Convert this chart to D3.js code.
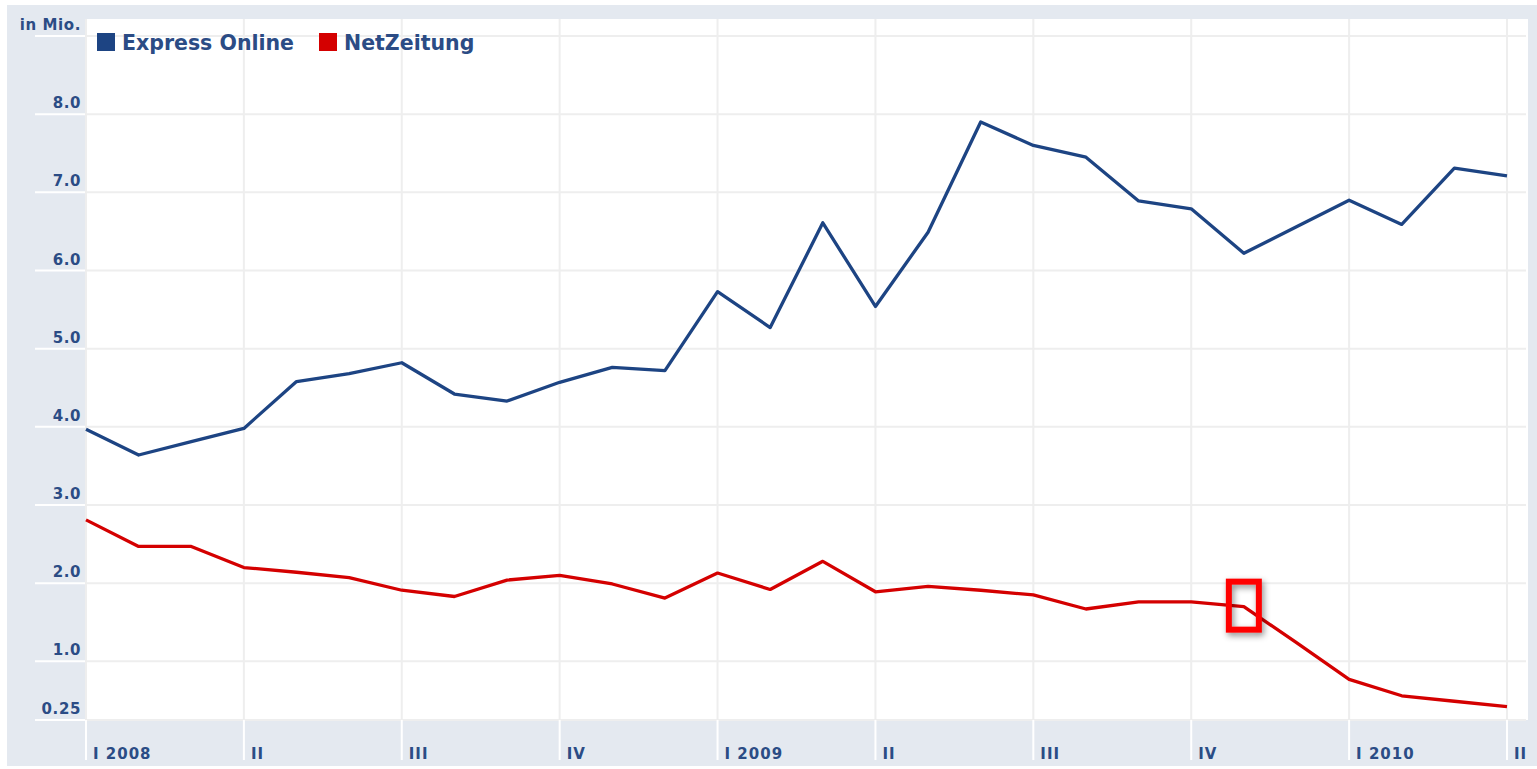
<!DOCTYPE html>
<html>
<head>
<meta charset="utf-8">
<script src="https://cdn.jsdelivr.net/npm/d3@7"></script>
<style>
  body { margin: 0; background: #fff; }
  text { font-family: "DejaVu Sans", Verdana, sans-serif; font-weight: bold; }
</style>
</head>
<body>
<div id="chart"></div>
<script>
// months from Jan 2008 to Apr 2010
var months = ["2008-01","2008-02","2008-03","2008-04","2008-05","2008-06","2008-07","2008-08","2008-09","2008-10","2008-11","2008-12",
              "2009-01","2009-02","2009-03","2009-04","2009-05","2009-06","2009-07","2009-08","2009-09","2009-10","2009-11","2009-12",
              "2010-01","2010-02","2010-03","2010-04"];
var expressOnline = [3.97, 3.64, 3.81, 3.98, 4.58, 4.68, 4.82, 4.42, 4.33, 4.57, 4.76, 4.72,
                     5.73, 5.27, 6.61, 5.54, 6.49, 7.90, 7.60, 7.45, 6.89, 6.79, 6.22, 6.56,
                     6.90, 6.59, 7.31, 7.21];
var netZeitung = [2.81, 2.47, 2.47, 2.20, 2.14, 2.07, 1.91, 1.83, 2.04, 2.10, 1.99, 1.81,
                  2.13, 1.92, 2.28, 1.89, 1.96, 1.91, 1.85, 1.67, 1.76, 1.76, 1.70, 1.24,
                  0.77, 0.56, 0.49, 0.42];
var quarterMonths = ["2008-01","2008-04","2008-07","2008-10","2009-01","2009-04","2009-07","2009-10","2010-01","2010-04"];
var quarterLabels = ["I 2008","II","III","IV","I 2009","II","III","IV","I 2010","II"];
var yTicks = [0.25, 1, 2, 3, 4, 5, 6, 7, 8, 9];
var yLabels = ["0.25","1.0","2.0","3.0","4.0","5.0","6.0","7.0","8.0","in Mio."];
var seriesNames = ["Express Online", "NetZeitung"];
var seriesColors = ["#1d4483", "#d40000"];
var markedMonth = "2009-11";

var W = 1537, H = 769;
var plot = {left: 86, right: 1528, top: 19, bottom: 720};
var textColor = "#2b4c85";

var svg = d3.select("#chart").append("svg")
    .attr("width", W)
    .attr("height", H);

var defs = svg.append("defs");
var f = defs.append("filter").attr("id", "shadow")
    .attr("x", "-50%").attr("y", "-50%").attr("width", "200%").attr("height", "200%");
f.append("feDropShadow").attr("dx", 2).attr("dy", 3).attr("stdDeviation", 3)
    .attr("flood-color", "#000").attr("flood-opacity", 0.45);

// panel background
svg.append("rect")
    .attr("x", 7).attr("y", 5)
    .attr("width", W - 7).attr("height", 761)
    .attr("fill", "#e4e9f0");

svg.append("rect")
    .attr("x", plot.left).attr("y", plot.top)
    .attr("width", plot.right - plot.left).attr("height", plot.bottom - plot.top)
    .attr("fill", "#fff");

var x = d3.scalePoint().domain(months).range([86, 1507]);
var y = d3.scaleLinear().domain([0.25, 9]).range([720, 36]);

// horizontal grid: white ticks in the gray margin, light gray inside
var hg = svg.append("g");
hg.selectAll("line.tick").data(yTicks).enter().append("line")
    .attr("x1", 35).attr("x2", plot.left)
    .attr("y1", function(d) { return y(d); })
    .attr("y2", function(d) { return y(d); })
    .attr("stroke", "#fff").attr("stroke-width", 2);
hg.selectAll("line.grid").data(yTicks).enter().append("line")
    .attr("x1", plot.left).attr("x2", plot.right - 2)
    .attr("y1", function(d) { return y(d); })
    .attr("y2", function(d) { return y(d); })
    .attr("stroke", "#eeeeee").attr("stroke-width", 2);
hg.selectAll("text").data(yTicks).enter().append("text")
    .attr("x", 81)
    .attr("y", function(d) { return y(d) - 6; })
    .attr("text-anchor", "end")
    .attr("font-size", 15)
    .attr("letter-spacing", 0.6)
    .attr("fill", textColor)
    .text(function(d, i) { return yLabels[i]; });

// vertical grid at quarter starts
var vg = svg.append("g");
vg.selectAll("line.grid").data(quarterMonths).enter().append("line")
    .attr("x1", function(d) { return x(d); })
    .attr("x2", function(d) { return x(d); })
    .attr("y1", plot.top).attr("y2", plot.bottom)
    .attr("stroke", "#eeeeee").attr("stroke-width", 2);
vg.selectAll("line.tick").data(quarterMonths).enter().append("line")
    .attr("x1", function(d) { return x(d); })
    .attr("x2", function(d) { return x(d); })
    .attr("y1", plot.bottom).attr("y2", 760)
    .attr("stroke", "#fff").attr("stroke-width", 2);
vg.selectAll("text").data(quarterMonths).enter().append("text")
    .attr("x", function(d) { return x(d) + 7; })
    .attr("y", 759)
    .attr("font-size", 15)
    .attr("letter-spacing", 1)
    .attr("fill", textColor)
    .text(function(d, i) { return quarterLabels[i]; });

// lines
var line = d3.line()
    .x(function(d, i) { return x(months[i]); })
    .y(function(d) { return y(d); });

[expressOnline, netZeitung].forEach(function(s, i) {
    svg.append("path")
        .datum(s)
        .attr("d", line)
        .attr("fill", "none")
        .attr("stroke", seriesColors[i])
        .attr("stroke-width", 3.3)
        .attr("stroke-linejoin", "round");
});

// highlight box
var mi = months.indexOf(markedMonth);
svg.append("rect")
    .attr("x", x(markedMonth) - 15)
    .attr("y", y(netZeitung[mi]) - 25)
    .attr("width", 30).attr("height", 48)
    .attr("fill", "none")
    .attr("stroke", "#ff0000")
    .attr("stroke-width", 6)
    .attr("filter", "url(#shadow)");

// legend
var lg = svg.append("g");
var legX = [97, 319];
seriesNames.forEach(function(name, i) {
    lg.append("rect")
        .attr("x", legX[i]).attr("y", 33)
        .attr("width", 18).attr("height", 18)
        .attr("fill", seriesColors[i]);
    lg.append("text")
        .attr("x", legX[i] + 25).attr("y", 50)
        .attr("font-size", 20.5)
        .attr("fill", textColor)
        .text(name);
});
</script>
</body>
</html>
